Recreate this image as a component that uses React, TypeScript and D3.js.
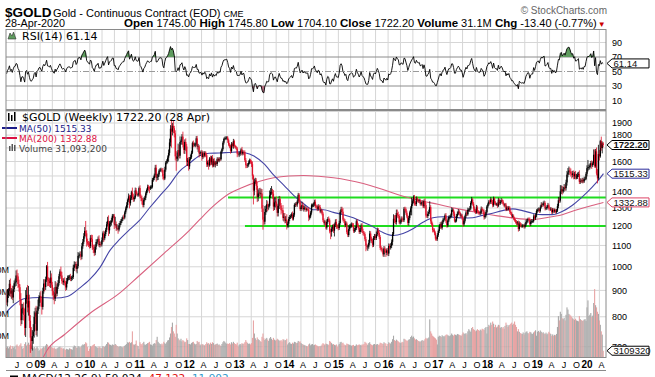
import React from "react";
import * as d3 from "d3";

// ---------------- data ----------------
const warmupCloses = [865, 896, 880, 907, 912, 922, 905, 948, 975, 975, 1001, 920, 933, 914, 926, 914, 888];

const weeklyClose = [
  // 2008 (from May 2)
  853,882,897,927,887,899,872,905,929,933,962,958,926,913,864,788,830,833,807,761,866,882,834,858,786,729,718,734,749,800,815,752,822,838,871,
  // 2009
  878,853,836,897,928,914,945,1002,942,938,930,953,923,897,882,868,913,887,915,930,959,979,962,939,933,940,930,912,937,952,955,957,948,952,955,996,1007,1012,991,1003,1050,1052,1057,1046,1096,1118,1146,1174,1161,1119,1110,1104,
  // 2010
  1097,1138,1131,1090,1083,1065,1094,1117,1118,1133,1102,1106,1105,1126,1161,1136,1157,1180,1209,1228,1177,1212,1218,1229,1256,1256,1208,1210,1189,1189,1181,1204,1215,1227,1237,1247,1246,1275,1297,1318,1346,1369,1328,1357,1394,1366,1352,1362,1406,1384,1379,1380,1421,
  // 2011
  1369,1360,1342,1318,1349,1361,1388,1409,1429,1421,1419,1428,1429,1474,1486,1504,1556,1491,1493,1510,1536,1542,1543,1539,1497,1483,1543,1592,1602,1628,1663,1742,1852,1828,1876,1856,1814,1637,1620,1636,1683,1642,1745,1755,1788,1724,1685,1746,1711,1598,1606,1566,
  // 2012
  1617,1631,1664,1737,1725,1725,1725,1774,1710,1711,1659,1662,1669,1632,1659,1642,1664,1645,1579,1592,1573,1622,1595,1629,1572,1604,1578,1593,1583,1619,1606,1620,1616,1672,1691,1740,1770,1773,1776,1781,1759,1724,1712,1677,1731,1714,1752,1714,1704,1696,1657,1656,
  // 2013
  1656,1662,1688,1657,1669,1667,1609,1573,1572,1577,1592,1607,1596,1581,1501,1405,1462,1470,1435,1365,1387,1393,1383,1387,1297,1234,1223,1277,1295,1322,1310,1313,1376,1396,1396,1386,1308,1333,1338,1310,1272,1314,1352,1315,1288,1287,1244,1251,1229,1234,1203,1212,
  // 2014
  1238,1248,1254,1264,1240,1262,1318,1323,1321,1339,1379,1336,1294,1303,1318,1293,1300,1302,1290,1293,1292,1246,1252,1274,1316,1316,1320,1337,1310,1307,1294,1310,1306,1280,1287,1268,1231,1216,1218,1192,1222,1238,1231,1171,1169,1185,1197,1175,1204,1222,1196,1195,
  // 2015
  1189,1216,1277,1293,1279,1234,1228,1204,1213,1167,1152,1183,1199,1201,1207,1203,1174,1179,1188,1225,1204,1190,1168,1180,1201,1173,1163,1157,1131,1099,1094,1094,1113,1160,1134,1121,1103,1137,1146,1137,1156,1177,1163,1142,1088,1081,1076,1057,1085,1075,1065,1076,
  // 2016
  1061,1098,1090,1097,1118,1158,1239,1230,1221,1271,1259,1255,1220,1222,1240,1235,1231,1296,1294,1273,1252,1216,1243,1275,1298,1322,1340,1366,1328,1323,1357,1344,1340,1345,1324,1327,1335,1310,1341,1317,1257,1254,1267,1277,1305,1225,1208,1178,1177,1161,1134,1133,1152,
  // 2017
  1173,1197,1210,1191,1220,1234,1238,1258,1226,1203,1230,1249,1249,1257,1289,1289,1268,1228,1228,1254,1268,1280,1271,1256,1257,1242,1209,1228,1254,1274,1264,1290,1291,1297,1330,1351,1325,1297,1284,1275,1304,1280,1273,1270,1274,1296,1288,1280,1248,1257,1278,1309,
  // 2018
  1322,1338,1334,1350,1337,1316,1356,1330,1323,1323,1313,1349,1327,1336,1347,1338,1323,1315,1320,1291,1303,1294,1302,1278,1270,1254,1255,1241,1231,1223,1214,1219,1184,1213,1206,1200,1201,1201,1196,1207,1222,1229,1236,1234,1210,1223,1226,1226,1252,1241,1258,1283,
  // 2019
  1288,1291,1284,1305,1320,1318,1326,1330,1298,1300,1306,1316,1298,1295,1295,1276,1290,1281,1287,1278,1285,1311,1346,1344,1400,1413,1400,1413,1427,1420,1457,1509,1524,1537,1529,1516,1507,1517,1498,1512,1493,1494,1505,1513,1462,1468,1464,1473,1464,1481,1481,1515,
  // 2020
  1553,1560,1560,1571,1588,1573,1586,1649,1566,1674,1516,1484,1654,1637,1752,1699,1735,1722.2,
];

// dollars above the candle body (weekly high) and below it (weekly low)
const wickUp = [
  15,20,12,16,22,10,20,14,12,16,22,26,14,18,12,25,18,14,20,22,35,30,40,60,25,20,35,20,25,20,18,25,12,26,10,
  14,20,16,14,18,18,12,6,20,12,12,30,18,12,14,10,25,20,10,12,10,10,22,16,12,10,14,8,14,10,8,8,12,8,8,14,18,10,12,10,18,12,14,14,16,14,16,20,53,16,15,12,
  15,14,16,22,14,20,12,14,12,12,18,14,12,14,10,14,14,10,14,22,30,14,12,16,10,10,10,40,14,20,10,12,12,10,10,10,16,10,12,16,10,18,10,20,10,30,20,12,18,16,14,10,10,
  18,12,14,16,14,12,12,10,14,12,12,10,10,12,10,12,20,21,20,12,10,12,14,10,16,16,20,12,14,16,25,30,30,65,25,47,20,25,40,30,50,40,45,10,20,40,25,20,28,20,20,25,
  15,20,15,12,20,16,14,18,20,20,12,12,12,15,16,14,12,10,15,14,20,10,20,12,18,16,20,12,12,12,10,12,10,8,10,12,10,15,14,10,12,12,14,12,14,10,18,12,10,12,12,10,
  15,14,10,20,12,12,14,16,12,12,16,14,12,12,20,9,20,18,15,26,25,28,30,30,28,20,15,35,20,25,18,12,30,25,38,20,22,30,25,30,15,40,20,16,14,12,30,20,20,20,30,12,
  12,12,10,10,16,10,10,10,12,10,12,10,15,10,20,14,12,14,8,10,10,12,10,10,10,10,12,12,14,10,10,12,10,12,10,8,10,10,12,10,14,10,14,10,14,10,10,14,10,14,16,12,
  16,12,10,14,14,20,10,10,12,10,10,20,10,12,12,10,12,12,10,10,12,10,10,10,12,14,12,10,10,12,10,10,15,14,12,10,12,10,12,10,14,14,12,10,10,10,10,10,12,10,8,10,
  12,12,10,14,12,10,25,20,30,20,20,20,10,10,12,12,10,10,12,10,12,10,12,10,12,40,12,10,12,12,12,10,10,10,10,10,10,10,10,16,14,10,14,14,35,12,12,10,10,10,10,10,10,
  8,12,10,14,9,11,7,10,13,9,12,8,10,11,14,10,9,12,8,11,12,14,10,8,11,9,10,12,8,10,9,12,8,14,10,15,8,10,12,9,14,10,8,9,11,13,10,8,12,9,10,8,
  9,10,12,14,8,10,12,9,10,8,10,12,8,10,12,9,10,8,9,10,8,9,10,8,9,8,10,8,7,8,9,8,10,12,8,9,10,8,9,10,12,10,9,10,12,9,10,8,12,10,12,10,
  10,12,9,10,14,10,12,14,10,9,12,14,10,9,10,8,10,9,10,8,9,14,20,16,40,25,22,16,20,15,18,25,30,28,20,22,16,18,20,16,22,20,18,15,25,16,14,15,12,14,14,12,
  20,51,18,15,16,20,14,40,40,18,29,30,70,30,10,36,15,11,
];
const wickDown = [
  10,15,12,20,12,20,10,22,12,14,15,20,16,18,22,20,14,18,20,25,30,18,18,30,25,48,25,30,25,20,25,15,20,12,10,
  20,16,28,10,10,18,12,10,25,20,16,20,12,18,20,22,10,14,10,10,10,12,10,12,10,12,10,14,10,10,10,12,10,10,10,8,15,10,12,20,10,12,10,16,12,12,10,12,16,25,10,12,
  12,10,14,12,20,16,12,14,10,18,10,12,10,10,10,18,10,10,12,12,30,18,16,16,10,14,24,10,16,12,22,10,12,10,10,10,10,10,10,10,16,10,30,14,10,18,16,14,10,10,10,12,10,
  12,20,22,14,14,10,14,12,16,18,30,10,12,10,12,14,14,29,20,20,15,10,14,16,20,12,10,14,12,16,30,20,30,126,30,40,32,30,85,20,30,20,20,20,30,20,28,30,35,30,30,30,
  20,10,12,10,20,14,20,12,22,40,30,18,10,26,14,16,10,14,18,16,30,10,22,18,14,12,15,20,12,15,10,12,14,10,14,12,14,12,10,12,20,12,14,20,12,12,20,12,10,12,26,14,
  24,16,14,14,12,20,12,20,18,16,14,10,12,20,25,84,30,16,25,30,25,16,16,20,20,54,16,15,16,20,28,20,10,16,16,30,25,20,30,20,20,20,20,18,25,15,15,20,15,14,22,12,
  20,12,10,10,10,10,12,12,12,14,10,14,10,12,10,8,14,12,12,10,10,20,12,10,12,12,10,10,12,10,12,10,12,10,10,10,10,10,12,10,12,10,10,10,38,25,14,12,30,10,12,10,
  12,10,10,10,12,10,12,12,10,10,10,10,10,10,10,10,10,10,10,10,10,10,10,10,12,10,12,10,10,27,14,20,10,10,10,10,12,10,10,10,10,10,12,10,10,10,10,10,12,12,20,12,
  10,12,10,10,10,16,10,14,12,14,14,14,10,12,10,12,10,10,12,12,10,14,14,12,16,40,10,12,14,10,12,10,10,10,10,10,12,10,10,20,12,10,12,12,10,14,10,12,10,10,10,10,10,
  9,10,12,8,11,9,10,8,11,12,10,9,11,8,10,12,14,9,10,8,11,9,10,12,9,10,14,8,10,11,9,8,10,12,8,10,11,14,10,9,8,12,10,9,11,10,8,12,14,9,11,8,
  10,8,12,10,14,12,9,10,8,10,12,8,10,9,10,12,8,10,12,9,8,10,9,12,10,12,9,10,8,10,12,9,14,10,12,9,10,8,10,9,10,9,12,10,14,10,9,10,8,10,9,10,
  10,9,12,10,8,12,10,14,12,10,10,9,12,10,12,10,9,10,8,10,9,8,12,14,12,16,20,12,14,16,15,20,18,16,22,20,24,16,20,18,16,15,14,12,15,14,10,12,12,10,10,9,
  18,22,20,15,14,25,12,10,10,10,12,33,10,30,10,20,40,18,
];

// weekly volume, millions
const volumeM = [
  45,50,42,48,55,40,52,45,50,38,55,60,52,48,58,65,50,40,45,62,70,55,60,68,58,64,55,45,42,48,40,44,50,42,30,
  35,42,40,45,50,46,55,62,58,48,45,55,50,44,42,46,40,38,42,45,48,50,44,46,40,42,38,35,40,38,36,42,40,38,36,48,55,52,46,44,52,50,46,48,55,60,58,62,70,65,48,30,
  40,52,50,55,58,62,52,48,46,44,50,46,44,42,52,50,48,55,62,70,68,60,58,55,60,58,56,62,58,52,50,48,52,50,48,46,50,54,58,62,70,68,72,66,70,120,60,58,62,78,55,52,40,
  70,62,60,66,72,60,58,62,66,68,72,60,58,55,62,66,64,80,95,72,66,62,60,64,60,72,66,62,70,78,80,92,110,140,160,120,110,95,150,110,88,82,78,86,74,80,76,70,72,88,80,62,
  62,60,66,70,72,64,60,62,76,70,72,60,56,62,60,58,56,62,70,64,66,60,68,62,70,66,58,60,62,64,58,60,56,52,62,70,76,72,66,62,64,62,66,60,70,64,72,66,62,60,68,50,
  58,62,60,66,62,64,70,80,72,66,62,64,60,66,90,170,110,88,80,92,84,80,76,72,95,110,88,80,86,90,82,76,88,94,86,80,90,82,78,80,86,82,78,76,80,74,84,82,78,80,86,60,
  66,70,64,62,68,64,72,70,66,68,76,72,74,66,62,60,58,56,54,52,50,60,64,56,60,62,56,58,60,56,54,50,52,50,54,60,66,62,58,64,62,60,58,76,72,66,60,62,58,56,60,48,
  56,62,70,72,66,68,60,58,56,64,62,60,58,56,54,56,58,52,54,60,56,58,60,58,56,60,58,62,72,68,64,58,66,70,62,58,56,60,62,58,60,62,58,60,68,66,64,62,70,66,64,52,
  62,70,66,64,72,84,100,80,76,82,78,74,70,66,68,72,70,86,84,80,76,78,82,84,94,100,92,96,88,82,84,80,76,74,72,76,80,76,78,84,90,86,88,92,175,120,110,100,96,92,88,82,60,
  95,100,98,94,102,98,96,100,104,106,102,100,98,102,110,104,100,106,104,102,108,106,104,102,100,106,115,110,108,112,106,120,130,124,118,135,140,130,126,120,124,130,126,122,128,124,132,130,126,135,140,110,
  140,150,145,160,150,165,155,140,150,138,142,150,148,136,140,134,140,132,145,160,150,140,148,150,155,160,150,155,165,150,140,120,130,118,112,110,108,115,105,112,118,120,112,110,118,116,110,108,115,120,125,100,
  118,122,116,124,118,112,116,110,108,114,106,110,118,112,108,100,106,100,104,102,108,140,190,170,210,200,180,176,182,170,196,230,220,200,196,192,186,180,176,172,178,170,168,166,190,176,172,168,170,174,176,168,
  230,262,190,196,204,186,192,250,314,240,230,210,200,170,150,120,105,31,
];

// moving averages: [decimal year, value]
const ma50Points = [
  [2008.30, 812],[2008.5, 848],[2008.7, 868],[2009.0, 872],[2009.3, 870],[2009.55, 876],[2009.8, 910],[2010.0, 945],
  [2010.2, 995],[2010.41, 1077],[2010.6, 1130],[2010.8, 1180],[2011.0, 1230],[2011.2, 1300],[2011.4, 1370],[2011.6, 1440],
  [2011.8, 1530],[2012.0, 1585],[2012.2, 1640],[2012.4, 1660],[2012.6, 1662],[2012.8, 1666],[2013.0, 1670],[2013.1, 1665],
  [2013.3, 1640],[2013.5, 1585],[2013.7, 1505],[2013.9, 1440],[2014.1, 1375],[2014.3, 1325],[2014.5, 1290],[2014.7, 1290],
  [2014.9, 1275],[2015.1, 1262],[2015.3, 1245],[2015.5, 1220],[2015.7, 1195],[2015.9, 1165],[2016.1, 1150],[2016.3, 1160],
  [2016.5, 1185],[2016.7, 1220],[2016.9, 1245],[2017.1, 1250],[2017.3, 1248],[2017.5, 1243],[2017.7, 1245],[2017.9, 1258],
  [2018.1, 1270],[2018.3, 1285],[2018.5, 1295],[2018.7, 1285],[2018.9, 1270],[2019.1, 1262],[2019.3, 1262],[2019.5, 1280],
  [2019.7, 1315],[2019.9, 1365],[2020.1, 1425],[2020.25, 1480],[2020.33, 1515.33],
];
const ma200Points = [
  [2008.30, 580],[2008.7, 620],[2009.0, 650],[2009.14, 689],[2009.5, 740],[2010.0, 812],[2010.6, 889],[2011.0, 962],
  [2011.5, 1063],[2012.0, 1175],[2012.2, 1231],[2012.5, 1315],[2012.8, 1385],[2013.08, 1427],[2013.4, 1463],[2013.7, 1488],
  [2014.0, 1500],[2014.3, 1503],[2014.6, 1498],[2014.9, 1488],[2015.2, 1472],[2015.5, 1450],[2015.8, 1422],[2016.1, 1390],
  [2016.4, 1362],[2016.7, 1340],[2017.0, 1322],[2017.3, 1302],[2017.6, 1285],[2017.9, 1270],[2018.2, 1255],[2018.5, 1244],
  [2018.86, 1235],[2019.2, 1246],[2019.5, 1262],[2019.8, 1290],[2020.1, 1315],[2020.33, 1332.88],
];

const priceGrid = [700, 800, 900, 1000, 1100, 1200, 1300, 1400, 1500, 1600, 1700, 1800, 1900, 2000];
const priceLabels = [700, 800, 900, 1000, 1100, 1200, 1300, 1400, 1600, 1800, 1900];
const rsiTicks = [90, 70, 50, 30, 10];
const volumeTicks = [100, 200, 300, 400];
const trendLines = [
  { price: 1363, from: 2012.78 },
  { price: 1200, from: 2013.12 },
];
const monthLetters: Record<number, string> = { 3: "A", 6: "J", 9: "O" };
const quoteParts: [string, boolean][] = [
  ["Open", true], ["1745.00", false], ["High", true], ["1745.80", false], ["Low", true], ["1704.10", false],
  ["Close", true], ["1722.20", false], ["Volume", true], ["31.1M", false], ["Chg", true], ["-13.40 (-0.77%)", false],
];

// ---------------- layout ----------------
const X0 = 6, X1 = 606;
const RSI_T = 29.5, RSI_B = 109.5;
const MAIN_T = 110.5, MAIN_B = 357.5;
const AX = "Liberation Sans, Arial, sans-serif";
const LG = "DejaVu Sans, Verdana, sans-serif";

function decYear(v: number) {
  const y = Math.floor(v);
  const a = new Date(y, 0, 1).getTime();
  const b = new Date(y + 1, 0, 1).getTime();
  return new Date(a + (v - y) * (b - a));
}

function ValueBox({ y, text, color, bold }: { y: number; text: string; color: string; bold?: boolean }) {
  const x0 = 607, x1 = 649, h = 9;
  const pts = `${x0},${y} ${x0 + 5},${y - h / 2} ${x1},${y - h / 2} ${x1},${y + h / 2} ${x0 + 5},${y + h / 2}`;
  return (
    <g>
      <polygon points={pts} fill="#fff" stroke={color} strokeWidth={1} />
      <text x={x0 + 6.5} y={y + 3.3} fontSize={9.5} fontFamily={AX} fontWeight={bold ? "bold" : "normal"} fill="#111">
        {text}
      </text>
    </g>
  );
}

export default function App() {
  const x = d3.scaleTime().domain([new Date(2008, 0, 1), new Date(2020, 0, 1)]).range([587 - 12 * 49.73, 587]);
  const y = d3.scaleLog().domain([700, 1900]).range([346.7, 123]);
  const yr = d3.scaleLinear().domain([30, 70]).range([86, 57]);
  const yv = d3.scaleLinear().domain([0, 100]).range([MAIN_B, MAIN_B - 21.8]);

  const lastWarm = warmupCloses[warmupCloses.length - 1];
  const weeks = weeklyClose.map((c, i) => {
    const open = i === 0 ? lastWarm : weeklyClose[i - 1];
    const hi = Math.max(open, c) + (wickUp[i] ?? 10);
    const lo = Math.min(open, c) - (wickDown[i] ?? 10);
    const date = new Date(2008, 4, 2 + 7 * i - 2);
    return { date, open, close: c, hi, lo, vol: volumeM[i] ?? 0, up: c >= open };
  });

  // RSI(14), Wilder smoothing
  const all = [...warmupCloses, ...weeklyClose];
  const rsiAll: number[] = [];
  let ag = 0, al = 0;
  for (let i = 1; i < all.length; i++) {
    const ch = all[i] - all[i - 1];
    const g = Math.max(ch, 0), l = Math.max(-ch, 0);
    if (i <= 14) {
      ag += g / 14; al += l / 14;
      if (i === 14) rsiAll[i] = 100 - 100 / (1 + ag / al);
    } else {
      ag = (ag * 13 + g) / 14; al = (al * 13 + l) / 14;
      rsiAll[i] = al === 0 ? 100 : 100 - 100 / (1 + ag / al);
    }
  }
  const rsi = weeks.map((w, i) => ({ date: w.date, v: rsiAll[i + warmupCloses.length] }));

  const rsiLine = d3.line<any>().x((d) => x(d.date)).y((d) => yr(d.v))(rsi) || "";
  const rsiHi = d3.area<any>().x((d) => x(d.date)).y0(yr(70)).y1((d) => yr(Math.max(70, d.v)))(rsi) || "";
  const rsiLo = d3.area<any>().x((d) => x(d.date)).y0(yr(30)).y1((d) => yr(Math.min(30, d.v)))(rsi) || "";

  const maLine = d3.line<number[]>().x((d) => x(decYear(d[0]))).y((d) => y(d[1])).curve(d3.curveMonotoneX);

  const quarters: { date: Date; m: number; yy: number }[] = [];
  for (let yy = 2008; yy <= 2020; yy++) {
    for (const m of [0, 3, 6, 9]) {
      const d = new Date(yy, m, 1);
      const px = x(d);
      if (px > X0 + 1 && px < X1 - 1) quarters.push({ date: d, m, yy });
    }
  }

  const grid = "#d6d6d6";
  const border = "#8a8a8a";

  return (
    <svg width={655} height={377} style={{ position: "fixed", left: 0, top: 0, background: "#fff" }}
      xmlns="http://www.w3.org/2000/svg">
      <defs>
        <clipPath id="cpRsi"><rect x={X0} y={RSI_T} width={X1 - X0} height={RSI_B - RSI_T} /></clipPath>
        <clipPath id="cpMain"><rect x={X0} y={MAIN_T} width={X1 - X0} height={MAIN_B - MAIN_T} /></clipPath>
      </defs>
      <rect x={0} y={0} width={655} height={377} fill="#fff" />

      {/* header */}
      <text x={5} y={17} fontSize={13.5} fontWeight="bold" fontFamily={AX} fill="#000">$GOLD</text>
      <text x={53} y={17} fontSize={11} fontFamily={AX} fill="#000">Gold - Continuous Contract (EOD) <tspan fontSize={9}>CME</tspan></text>
      <text x={607} y={14} fontSize={10} fontFamily={AX} fill="#666" textAnchor="end">© StockCharts.com</text>
      <text x={5} y={27} fontSize={10.8} fontFamily={AX} fill="#000">28-Apr-2020</text>
      <text x={124} y={27} fontFamily={AX} fill="#000">
        {quoteParts.map(([t, b], i) => (
          <tspan key={i} fontSize={b ? 11.5 : 11} fontWeight={b ? "bold" : "normal"}>{(i > 0 ? " " : "") + t}</tspan>
        ))}
        <tspan fontSize={8} fill="#cc0000" dx={1}>▼</tspan>
      </text>

      {/* grids */}
      {quarters.map((q, i) => (
        <g key={i}>
          <line x1={x(q.date)} x2={x(q.date)} y1={RSI_T} y2={RSI_B} stroke={grid} strokeWidth={1} />
          <line x1={x(q.date)} x2={x(q.date)} y1={MAIN_T} y2={MAIN_B} stroke={grid} strokeWidth={1} />
        </g>
      ))}
      {[90, 10].map((v) => (
        <line key={v} x1={X0} x2={X1} y1={yr(v)} y2={yr(v)} stroke={grid} />
      ))}
      <line x1={X0} x2={X1} y1={yr(70)} y2={yr(70)} stroke="#8c8c8c" strokeWidth={1} />
      <line x1={X0} x2={X1} y1={yr(30)} y2={yr(30)} stroke="#8c8c8c" strokeWidth={1} />
      <line x1={X0} x2={X1} y1={yr(50)} y2={yr(50)} stroke="#9a9a9a" strokeWidth={1} strokeDasharray="6,2,1,2" />
      {priceGrid.map((p) => (
        <line key={p} x1={X0} x2={X1} y1={y(p)} y2={y(p)} stroke={grid} />
      ))}

      {/* RSI */}
      <g clipPath="url(#cpRsi)">
        <path d={rsiHi} fill="#5f9c5f" stroke="none" />
        <path d={rsiLo} fill="#b36a7c" stroke="none" />
        <path d={rsiLine} fill="none" stroke="#000" strokeWidth={0.9} />
      </g>
      <path d="M8,39 L10,33 L12,36 L13.5,32 L16,39 Z" fill="#5f9c5f" stroke="#333" strokeWidth={0.6} />
      <text x={22} y={40} fontSize={11} fontFamily={LG} fill="#000">RSI(14) 61.14</text>

      {/* main panel */}
      <g clipPath="url(#cpMain)">
        {weeks.map((w, i) => (
          <rect key={"v" + i} x={x(w.date) - 0.55} y={yv(w.vol)} width={1.1} height={MAIN_B - yv(w.vol)}
            fill={w.up ? "#a8a8a8" : "#e8a4a4"} />
        ))}
        {trendLines.map((t, i) => (
          <line key={"t" + i} x1={x(decYear(t.from))} x2={X1} y1={y(t.price)} y2={y(t.price)} stroke="#1fdc1f" strokeWidth={2} />
        ))}
        <path d={maLine(ma200Points as any) || ""} fill="none" stroke="#d9607f" strokeWidth={1.1} />
        <path d={maLine(ma50Points as any) || ""} fill="none" stroke="#4545a6" strokeWidth={1.1} />
        {weeks.map((w, i) => {
          const cx = x(w.date);
          const col = w.up ? "#000" : "#e0102a";
          const top = y(Math.max(w.open, w.close));
          const bot = y(Math.min(w.open, w.close));
          return (
            <g key={"c" + i}>
              <line x1={cx} x2={cx} y1={y(w.hi)} y2={y(w.lo)} stroke={col} strokeWidth={0.8} />
              <rect x={cx - 0.65} y={top} width={1.3} height={Math.max(0.6, bot - top)} fill={col} />
            </g>
          );
        })}
      </g>

      {/* main legend */}
      <g fill="#000">
        <rect x={8} y={113} width={1.5} height={8} />
        <rect x={11} y={115} width={1.5} height={6} />
        <rect x={14} y={112} width={1.5} height={9} />
      </g>
      <text x={22} y={121} fontSize={11} fontFamily={LG} fill="#000">$GOLD (Weekly) 1722.20 (28 Apr)</text>
      <line x1={2} x2={17} y1={128} y2={128} stroke="#1d1d8a" strokeWidth={2} />
      <text x={19} y={131.5} fontSize={9} fontFamily={LG} fill="#1d1d8a">MA(50) 1515.33</text>
      <line x1={2} x2={17} y1={138} y2={138} stroke="#dd1144" strokeWidth={2} />
      <text x={19} y={141.5} fontSize={9} fontFamily={LG} fill="#dd1144">MA(200) 1332.88</text>
      <g fill="#555">
        <rect x={9} y={146} width={1.5} height={5} />
        <rect x={11.5} y={144} width={1.5} height={7} />
        <rect x={14} y={145} width={1.5} height={6} />
      </g>
      <text x={19} y={151.5} fontSize={9} fontFamily={LG} fill="#444">Volume 31,093,200</text>

      {/* volume left labels (mostly off canvas, as in the original) */}
      {volumeTicks.map((v) => (
        <text key={v} x={9} y={yv(v) + 3} fontSize={9} fontFamily={AX} fill="#000" textAnchor="end">{v}M</text>
      ))}

      {/* panel borders */}
      <rect x={X0} y={RSI_T} width={X1 - X0} height={RSI_B - RSI_T} fill="none" stroke={border} />
      <rect x={X0} y={MAIN_T} width={X1 - X0} height={MAIN_B - MAIN_T} fill="none" stroke={border} />
      <line x1={X0} x2={X1} y1={370.5} y2={370.5} stroke={border} />

      {/* right axis labels */}
      {rsiTicks.map((v) => (
        <text key={v} x={612} y={yr(v) + 3.2} fontSize={9} fontFamily={AX} fill="#000">{v}</text>
      ))}
      {priceLabels.map((p) => (
        <text key={p} x={612} y={y(p) + 3.2} fontSize={9} fontFamily={AX} fill="#000">{p}</text>
      ))}
      <ValueBox y={yr(61.14)} text="61.14" color="#000" />
      <ValueBox y={y(1722.2)} text="1722.20" color="#000" bold />
      <ValueBox y={y(1515.33)} text="1515.33" color="#2a2a9a" />
      <ValueBox y={y(1332.88)} text="1332.88" color="#dd4466" />
      <ValueBox y={yv(31.0932)} text="3109320" color="#000" />

      {/* x axis labels */}
      {quarters.map((q, i) =>
        q.m === 0 ? (
          <text key={i} x={x(q.date)} y={368} fontSize={10} fontWeight="bold" fontFamily={AX} textAnchor="middle" fill="#000">
            {String(q.yy).slice(2)}
          </text>
        ) : (
          <text key={i} x={x(q.date) + 2} y={368} fontSize={9} fontFamily={AX} textAnchor="middle" fill="#000">
            {monthLetters[q.m]}
          </text>
        )
      )}

      {/* MACD legend (cut by the frame) */}
      <line x1={10} x2={18} y1={377} y2={377} stroke="#000" strokeWidth={3} />
      <text x={22} y={382} fontSize={10.5} fontFamily={LG} fill="#000">
        MACD(12,26,9) 59.024, <tspan fill="#e01010">47.122</tspan>, <tspan fill="#3399cc">11.902</tspan>
      </text>
      <text x={612} y={383} fontSize={9} fontFamily={AX} fill="#000">400</text>
    </svg>
  );
}
